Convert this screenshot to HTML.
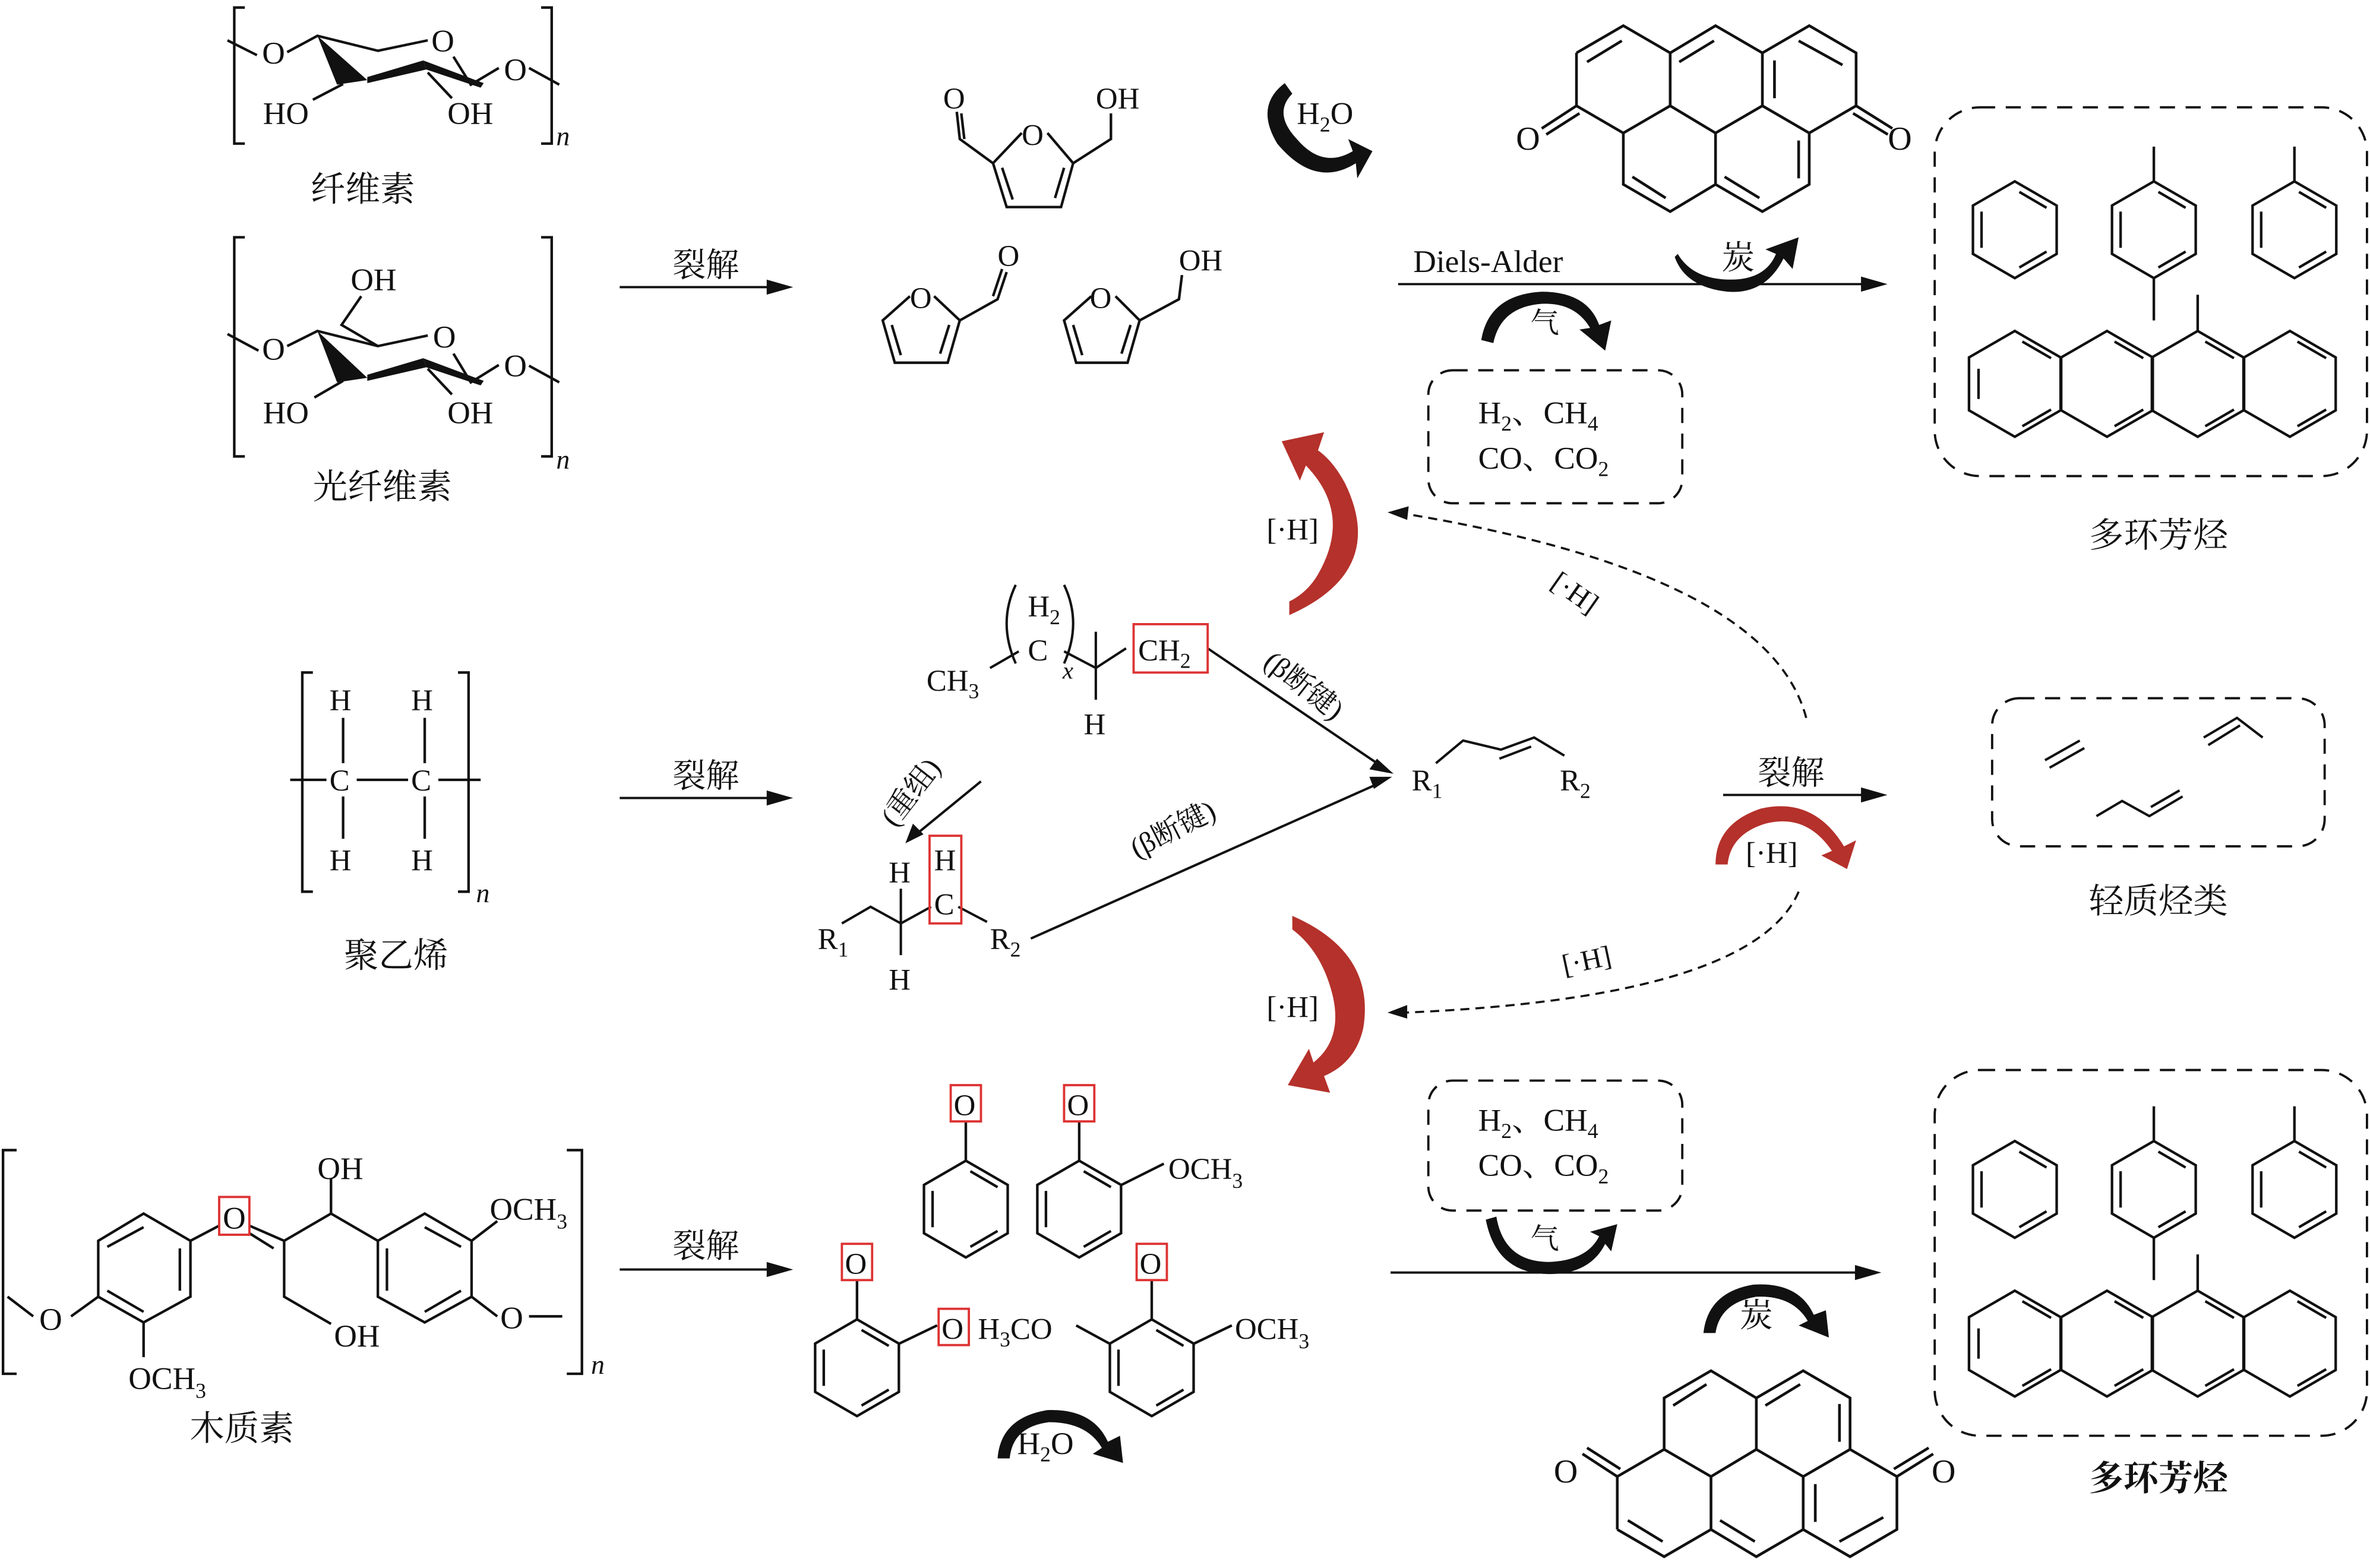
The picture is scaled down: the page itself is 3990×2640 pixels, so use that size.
<!DOCTYPE html>
<html><head><meta charset="utf-8"><style>
html,body{margin:0;padding:0;background:#fff}
svg{display:block}
text{font-family:"Liberation Serif","Noto Serif CJK SC",serif;fill:#111}
</style></head><body>
<svg width="3990" height="2640" viewBox="0 0 1568 1037.5" preserveAspectRatio="none" xmlns="http://www.w3.org/2000/svg">
<defs>
<g id="bz" fill="none" stroke="#111" stroke-width="1.7">
<polygon points="0,-32 27.7,-16 27.7,16 0,32 -27.7,16 -27.7,-16"/>
<line x1="3" y1="-25" x2="21" y2="-14.5"/>
<line x1="21" y1="14.5" x2="3" y2="25"/>
<line x1="-22" y1="12" x2="-22" y2="-12"/>
</g>
<g id="ac" fill="none" stroke="#111" stroke-width="1.7">
<polygon points="0,-35 30.3,-17.5 30.3,17.5 0,35 -30.3,17.5 -30.3,-17.5"/>
</g>
<g id="pah" fill="none" stroke="#111" stroke-width="1.8">
<path d="M1043,35 L1074,17 L1105,35 L1135,17 L1166,35 L1197,17 L1228,35 L1228,70 L1197,88 L1166,70 L1166,35 M1105,35 L1105,70 L1074,88 L1043,70 L1043,35 M1105,70 L1135,88 L1166,70 M1135,88 L1135,122 L1105,140 L1074,122 L1074,88 M1135,122 L1166,140 L1197,122 L1197,88"/>
<path d="M1050,41 L1073,27 M1111,41 L1134,27 M1190,27 L1219,43 M1174,40 L1174,65 M1080,117 L1102,131 M1141,117 L1164,131 M1190,93 L1190,118"/>
<path d="M1043,70 L1020,85 M1045,75 L1023,89 M1228,70 L1252,85 M1226,75 L1249,89"/>
</g>
</defs>
<rect width="1568" height="1037.5" fill="#fff"/>

<!-- ============ Cellulose ============ -->
<g fill="none" stroke="#111" stroke-width="1.7">
<path d="M162,5 L155,5 L155,95 L162,95"/><path d="M358,5 L365,5 L365,95 L358,95"/>
<path d="M150.5,26.7 L170,36.5 M190,34.5 L210,23.7 L250,33.6 L283,26.7 M300,37.5 L311.5,56 L330,45 M350,45 L370,56"/>
<path d="M227,55.6 L207,66 M283,48 L299,65"/>
</g>
<g fill="#111">
<polygon points="210,23.7 223,56 243,53"/>
<polygon points="243,51 280,40 282,46 243,55"/>
<polygon points="280,40 320,55 318,58 282,46"/>
</g>
<text x="181" y="42" font-size="21" text-anchor="middle">O</text><text x="293" y="34" font-size="21" text-anchor="middle">O</text><text x="341" y="53" font-size="21" text-anchor="middle">O</text>
<text x="174" y="82" font-size="21">HO</text><text x="296" y="82" font-size="21">OH</text>
<text x="368" y="96" font-size="18" font-style="italic">n</text>
<text x="240" y="133" font-size="23" text-anchor="middle">纤维素</text>

<!-- ============ Hemicellulose ============ -->
<g fill="none" stroke="#111" stroke-width="1.7">
<path d="M162,157 L155,157 L155,302 L162,302"/><path d="M358,157 L365,157 L365,302 L358,302"/>
<path d="M150.5,221 L171,232 M190,229 L210,219 L250,229 L283,222 M300,234 L311.5,253 L330,241.5 M350,242 L370,253"/>
<path d="M250,229 L226,215 L239,196"/>
<path d="M227,252 L208,263 M283,244 L299,261"/>
</g>
<g fill="#111">
<polygon points="210,219 223,253 243,250"/>
<polygon points="243,248 280,237 282,243 243,252"/>
<polygon points="280,237 320,252 318,255 282,243"/>
</g>
<text x="232" y="192" font-size="21">OH</text>
<text x="181" y="238" font-size="21" text-anchor="middle">O</text><text x="294" y="230" font-size="21" text-anchor="middle">O</text><text x="341" y="249" font-size="21" text-anchor="middle">O</text>
<text x="174" y="280" font-size="21">HO</text><text x="296" y="280" font-size="21">OH</text>
<text x="368" y="310" font-size="18" font-style="italic">n</text>
<text x="253" y="330" font-size="23" text-anchor="middle">光纤维素</text>

<!-- ============ Polyethylene ============ -->
<g fill="none" stroke="#111" stroke-width="1.7">
<path d="M207,445 L200,445 L200,590 L207,590"/><path d="M303,445 L310,445 L310,590 L303,590"/>
<path d="M192,516 L216,516 M236,516 L270,516 M290,516 L318,516"/>
<path d="M227,475 L227,505 M227,527 L227,555 M281,475 L281,505 M281,527 L281,555"/>
</g>
<text x="218" y="470" font-size="20">H</text><text x="272" y="470" font-size="20">H</text>
<text x="218" y="523" font-size="20">C</text><text x="272" y="523" font-size="20">C</text>
<text x="218" y="576" font-size="20">H</text><text x="272" y="576" font-size="20">H</text>
<text x="315" y="597" font-size="18" font-style="italic">n</text>
<text x="262" y="640" font-size="23" text-anchor="middle">聚乙烯</text>

<!-- ============ Lignin ============ -->
<g fill="none" stroke="#111" stroke-width="1.7">
<path d="M11,761 L2,761 L2,909 L11,909"/><path d="M375,761 L385,761 L385,909 L375,909"/>
<polygon points="95,803 126,821 126,858 95,875 65,858 65,821"/>
<path d="M71,825 L95,812 M119,826 L119,854 M71,854 L95,868"/>
<path d="M126,821 L145,811 M165,811 L188,821 M165,816 L181,826 M188,821 L219,803 L219,780 M188,821 L188,858 L219,876 M219,803 L250,821"/>
<polygon points="281,803 312,821 312,858 281,875 250,858 250,821"/>
<path d="M281,812 L305,825 M256,826 L256,854 M281,868 L305,854"/>
<path d="M312,821 L329,808 M312,858 L329,871 M350,871 L372,871 M65,858 L47,871 M22,871 L5,858 M95,875 L95,898"/>
</g>
<rect x="145" y="792" width="20" height="25" fill="none" stroke="#d33" stroke-width="1.5"/>
<text x="155" y="813" font-size="21" text-anchor="middle">O</text>
<text x="210" y="780" font-size="21">OH</text>
<text x="324" y="807" font-size="21">OCH<tspan font-size="14" dy="6">3</tspan></text>
<text x="221" y="891" font-size="21">OH</text>
<text x="26" y="880" font-size="21">O</text>
<text x="331" y="879" font-size="21">O</text>
<text x="85" y="919" font-size="21">OCH<tspan font-size="14" dy="6">3</tspan></text>
<text x="391" y="909" font-size="18" font-style="italic">n</text>
<text x="160" y="953" font-size="23" text-anchor="middle">木质素</text>

<!-- ============ 裂解 arrows ============ -->
<g stroke="#111" stroke-width="1.5" fill="#111">
<line x1="410" y1="190" x2="515" y2="190"/><polygon points="522,190 508,186 508,194"/>
<line x1="410" y1="528" x2="515" y2="528"/><polygon points="522,528 508,524 508,532"/>
<line x1="410" y1="840" x2="515" y2="840"/><polygon points="522,840 508,836 508,844"/>
<line x1="925" y1="188" x2="1238" y2="188"/><polygon points="1246,188 1232,184 1232,192"/>
<line x1="920" y1="842" x2="1234" y2="842"/><polygon points="1242,842 1228,838 1228,846"/>
<line x1="1140" y1="526" x2="1238" y2="526"/><polygon points="1246,526 1232,522 1232,530"/>
</g>
<text x="467" y="183" font-size="22" text-anchor="middle">裂解</text>
<text x="467" y="521" font-size="22" text-anchor="middle">裂解</text>
<text x="467" y="832" font-size="22" text-anchor="middle">裂解</text>
<text x="1185" y="519" font-size="22" text-anchor="middle">裂解</text>
<text x="935" y="180" font-size="21" font-family="Liberation Sans">Diels-Alder</text>

<!-- ============ Furans ============ -->
<g fill="none" stroke="#111" stroke-width="1.7">
<path d="M676,88 L657,108 L666,137 L702,137 L710,108 L693,88"/>
<path d="M663,111 L670,132 M698,131 L704,111"/>
<path d="M657,108 L635,92 L633,74 M638,92 L636,75 M710,108 L735,92 L735,75"/>
<path d="M602,196 L584,212 L592,240 L627,240 L635,212 L618,196"/>
<path d="M590,215 L596,235 M622,234 L628,215"/>
<path d="M635,212 L660,198 L666,180 M657,196 L663,178"/>
<path d="M722,196 L704,212 L712,240 L746,240 L754,212 L738,196"/>
<path d="M710,215 L716,235 M742,234 L748,215"/>
<path d="M754,212 L780,198 L782,182"/>
</g>
<text x="676" y="96" font-size="20">O</text>
<text x="624" y="72" font-size="20">O</text><text x="725" y="72" font-size="20">OH</text>
<text x="602" y="204" font-size="20">O</text><text x="660" y="176" font-size="20">O</text>
<text x="721" y="204" font-size="20">O</text><text x="780" y="179" font-size="20">OH</text>

<!-- ============ PAH ketones ============ -->
<use href="#pah"/>
<text x="1003" y="99" font-size="22">O</text><text x="1249" y="99" font-size="22">O</text>
<g transform="translate(27,1047) scale(1,-1)"><use href="#pah"/></g>
<text x="1028" y="981" font-size="22">O</text><text x="1278" y="981" font-size="22">O</text>

<!-- ============ black curved arrows ============ -->
<g fill="#111">
<path d="M845,95 Q830,70 850,55 L855,62 Q842,75 858,92 Q875,112 895,100 L892,92 L908,100 L898,118 L897,108 Q870,125 845,95 Z"/>
<path d="M1110,168 Q1120,185 1145,185 Q1168,185 1175,168 L1168,165 L1190,157 L1186,178 L1180,171 Q1168,195 1143,193 Q1115,190 1108,170 Z"/>
<path d="M980,225 Q985,195 1020,193 Q1050,193 1058,215 L1066,212 L1062,232 L1045,218 L1052,217 Q1042,200 1020,201 Q993,203 988,227 Z"/>
<path d="M990,805 Q995,835 1025,835 Q1050,834 1058,818 L1052,815 L1070,810 L1066,828 L1062,823 Q1052,843 1025,843 Q990,843 983,807 Z"/>
<path d="M1127,882 Q1130,855 1160,850 Q1190,848 1200,870 L1208,867 L1210,885 L1190,877 L1196,874 Q1186,857 1162,858 Q1138,862 1135,882 Z"/>
<path d="M660,965 Q662,938 693,933 Q723,932 733,954 L741,950 L743,968 L723,962 L729,958 Q719,941 694,941 Q670,944 668,965 Z"/>
</g>
<text x="858" y="82" font-size="21">H<tspan font-size="14" dy="5">2</tspan><tspan dy="-5">O</tspan></text>
<text x="1150" y="178" font-size="22" text-anchor="middle">炭</text>
<text x="1022" y="220" font-size="19" text-anchor="middle">气</text>
<text x="1022" y="826" font-size="19" text-anchor="middle">气</text>
<text x="1162" y="878" font-size="22" text-anchor="middle">炭</text>
<text x="673" y="962" font-size="21">H<tspan font-size="14" dy="5">2</tspan><tspan dy="-5">O</tspan></text>

<!-- ============ dashed boxes ============ -->
<g fill="none" stroke="#111" stroke-width="1.5" stroke-dasharray="10,7">
<rect x="945" y="245" width="168" height="88" rx="16"/>
<rect x="945" y="715" width="168" height="86" rx="16"/>
<rect x="1280" y="71" width="286" height="244" rx="30"/>
<rect x="1280" y="708" width="286" height="242" rx="30"/>
<rect x="1318" y="462" width="220" height="98" rx="18"/>
</g>
<text x="978" y="280" font-size="21">H<tspan font-size="14" dy="5">2</tspan><tspan dy="-5">、CH</tspan><tspan font-size="14" dy="5">4</tspan></text>
<text x="978" y="310" font-size="21">CO、CO<tspan font-size="14" dy="5">2</tspan></text>
<text x="978" y="748" font-size="21">H<tspan font-size="14" dy="5">2</tspan><tspan dy="-5">、CH</tspan><tspan font-size="14" dy="5">4</tspan></text>
<text x="978" y="778" font-size="21">CO、CO<tspan font-size="14" dy="5">2</tspan></text>

<!-- PAH box contents top -->
<use href="#bz" x="1333" y="152"/>
<use href="#bz" x="1425" y="152"/>
<use href="#bz" x="1518" y="152"/>
<g stroke="#111" stroke-width="1.7" fill="none">
<path d="M1425,120 L1425,97 M1425,184 L1425,212 M1518,120 L1518,97"/>
<use href="#ac" x="1333" y="254"/><use href="#ac" x="1394" y="254"/><use href="#ac" x="1454" y="254"/><use href="#ac" x="1515" y="254"/>
<path d="M1454,219 L1454,195"/>
<path d="M1309,244 L1309,264 M1338,226 L1357,237 M1338,282 L1357,271 M1399,226 L1418,237 M1399,282 L1418,271 M1459,226 L1478,237 M1459,282 L1478,271 M1520,226 L1539,237 M1520,282 L1539,271"/>
</g>
<text x="1428" y="362" font-size="23" text-anchor="middle">多环芳烃</text>

<!-- PAH box contents bottom -->
<use href="#bz" x="1333" y="787"/>
<use href="#bz" x="1425" y="787"/>
<use href="#bz" x="1518" y="787"/>
<g stroke="#111" stroke-width="1.7" fill="none">
<path d="M1425,755 L1425,732 M1425,819 L1425,847 M1518,755 L1518,732"/>
<use href="#ac" x="1333" y="889"/><use href="#ac" x="1394" y="889"/><use href="#ac" x="1454" y="889"/><use href="#ac" x="1515" y="889"/>
<path d="M1454,854 L1454,830"/>
<path d="M1309,879 L1309,899 M1338,861 L1357,872 M1338,917 L1357,906 M1399,861 L1418,872 M1399,917 L1418,906 M1459,861 L1478,872 M1459,917 L1478,906 M1520,861 L1539,872 M1520,917 L1539,906"/>
</g>
<text x="1428" y="986" font-size="23" text-anchor="middle" font-weight="bold">多环芳烃</text>

<!-- light hydrocarbons -->
<g stroke="#111" stroke-width="1.6" fill="none">
<path d="M1353,503 L1376,490 M1356,508 L1379,495"/>
<path d="M1458,488 L1480,475 L1497,488 M1461,493 L1482,480"/>
<path d="M1387,540 L1404,530 L1422,540 L1444,527 M1423,534 L1442,523"/>
</g>
<text x="1428" y="604" font-size="23" text-anchor="middle">轻质烃类</text>

<!-- ============ middle chemistry ============ -->
<g fill="none" stroke="#111" stroke-width="1.6">
<path d="M672,387 Q660,412 672,439 M704,387 Q716,412 704,439"/>
<path d="M655,442 L674,431 M704,431 L725,442 L745,429 M725,418 L725,463 M799,429 L914,507"/>
<path d="M557,611 L576,600 L596,611 L616,600 M596,588 L596,632 M634,600 L653,610 M682,621 L913,518"/>
<path d="M649,517 L605,553"/>
<path d="M950,505 L968,490 L993,496 L1015,488 L1035,500 M992,502 L1013,494"/>
</g>
<g fill="#111">
<polygon points="922,512 906,509 911,502"/>
<polygon points="921,514 909,522 906,514"/>
<polygon points="599,558 604,545 611,552"/>
</g>
<text x="680" y="408" font-size="20">H<tspan font-size="14" dy="5">2</tspan></text>
<text x="680" y="437" font-size="20">C</text>
<text x="703" y="449" font-size="16" font-style="italic">x</text>
<text x="613" y="457" font-size="20">CH<tspan font-size="14" dy="5">3</tspan></text>
<rect x="750" y="413" width="49" height="32" fill="none" stroke="#d33" stroke-width="1.5"/>
<text x="753" y="437" font-size="20">CH<tspan font-size="14" dy="5">2</tspan></text>
<text x="717" y="486" font-size="20">H</text>
<text transform="translate(835,440) rotate(38)" font-size="19">(β断键)</text>
<text transform="translate(752,568) rotate(-27)" font-size="19">(β断键)</text>
<text transform="translate(592,548) rotate(-52)" font-size="19">(重组)</text>
<text x="934" y="523" font-size="20">R<tspan font-size="14" dy="5">1</tspan></text>
<text x="1032" y="523" font-size="20">R<tspan font-size="14" dy="5">2</tspan></text>
<text x="588" y="584" font-size="20">H</text>
<rect x="615" y="553" width="21" height="58" fill="none" stroke="#d33" stroke-width="1.5"/>
<text x="618" y="576" font-size="20">H</text>
<text x="618" y="605" font-size="20">C</text>
<text x="541" y="628" font-size="20">R<tspan font-size="14" dy="5">1</tspan></text>
<text x="655" y="628" font-size="20">R<tspan font-size="14" dy="5">2</tspan></text>
<text x="588" y="655" font-size="20">H</text>

<!-- dashed [·H] arrows -->
<g fill="none" stroke="#111" stroke-width="1.4" stroke-dasharray="6,4">
<path d="M1195,475 Q1170,380 930,340"/>
<path d="M1190,590 Q1160,660 930,670"/>
</g>
<g fill="#111">
<polygon points="918,339 932,335 931,344"/>
<polygon points="918,670 931,665 931,674"/>
</g>
<text x="838" y="357" font-size="20">[·H]</text>
<text x="838" y="673" font-size="20">[·H]</text>
<text transform="translate(1025,388) rotate(35)" font-size="19">[·H]</text>
<text transform="translate(1035,645) rotate(-12)" font-size="19">[·H]</text>

<!-- red curved arrows -->
<g fill="#b5312b">
<path d="M853,407 Q918,378 890,320 Q882,305 872,298 L876,286 L848,292 L860,318 L864,308 Q895,340 872,380 Q865,392 853,398 Z"/>
<path d="M855,606 Q910,630 902,680 Q897,703 876,712 L880,723 L852,718 L866,694 L869,703 Q888,688 882,660 Q875,630 855,615 Z"/>
<path d="M1135,572 Q1135,545 1165,535 Q1200,527 1220,560 L1228,556 L1222,575 L1205,566 L1212,563 Q1195,538 1168,545 Q1145,552 1143,572 Z"/>
</g>
<text x="1155" y="571" font-size="20">[·H]</text>

<!-- ============ bottom phenolics ============ -->
<use href="#bz" x="639" y="800"/>
<use href="#bz" x="714" y="800"/>
<g fill="none" stroke="#111" stroke-width="1.7">
<path d="M639,768 L639,742 M714,768 L714,742 M742,784 L770,770"/>
</g>
<rect x="629" y="718" width="20" height="24" fill="none" stroke="#d33" stroke-width="1.5"/>
<text x="631" y="738" font-size="20">O</text>
<rect x="704" y="718" width="20" height="24" fill="none" stroke="#d33" stroke-width="1.5"/>
<text x="706" y="738" font-size="20">O</text>
<text x="773" y="780" font-size="20">OCH<tspan font-size="14" dy="6">3</tspan></text>

<use href="#bz" x="567" y="905"/>
<use href="#bz" x="762" y="905"/>
<g fill="none" stroke="#111" stroke-width="1.7">
<path d="M567,873 L567,847 M595,889 L620,877 M762,873 L762,847 M734,889 L712,877 M790,889 L815,877"/>
</g>
<rect x="557" y="823" width="20" height="24" fill="none" stroke="#d33" stroke-width="1.5"/>
<text x="559" y="843" font-size="20">O</text>
<rect x="621" y="866" width="20" height="24" fill="none" stroke="#d33" stroke-width="1.5"/>
<text x="623" y="886" font-size="20">O</text>
<text x="647" y="886" font-size="20">H<tspan font-size="14" dy="5">3</tspan><tspan dy="-5">CO</tspan></text>
<rect x="752" y="823" width="20" height="24" fill="none" stroke="#d33" stroke-width="1.5"/>
<text x="754" y="843" font-size="20">O</text>
<text x="817" y="886" font-size="20">OCH<tspan font-size="14" dy="6">3</tspan></text>
</svg>
</body></html>
